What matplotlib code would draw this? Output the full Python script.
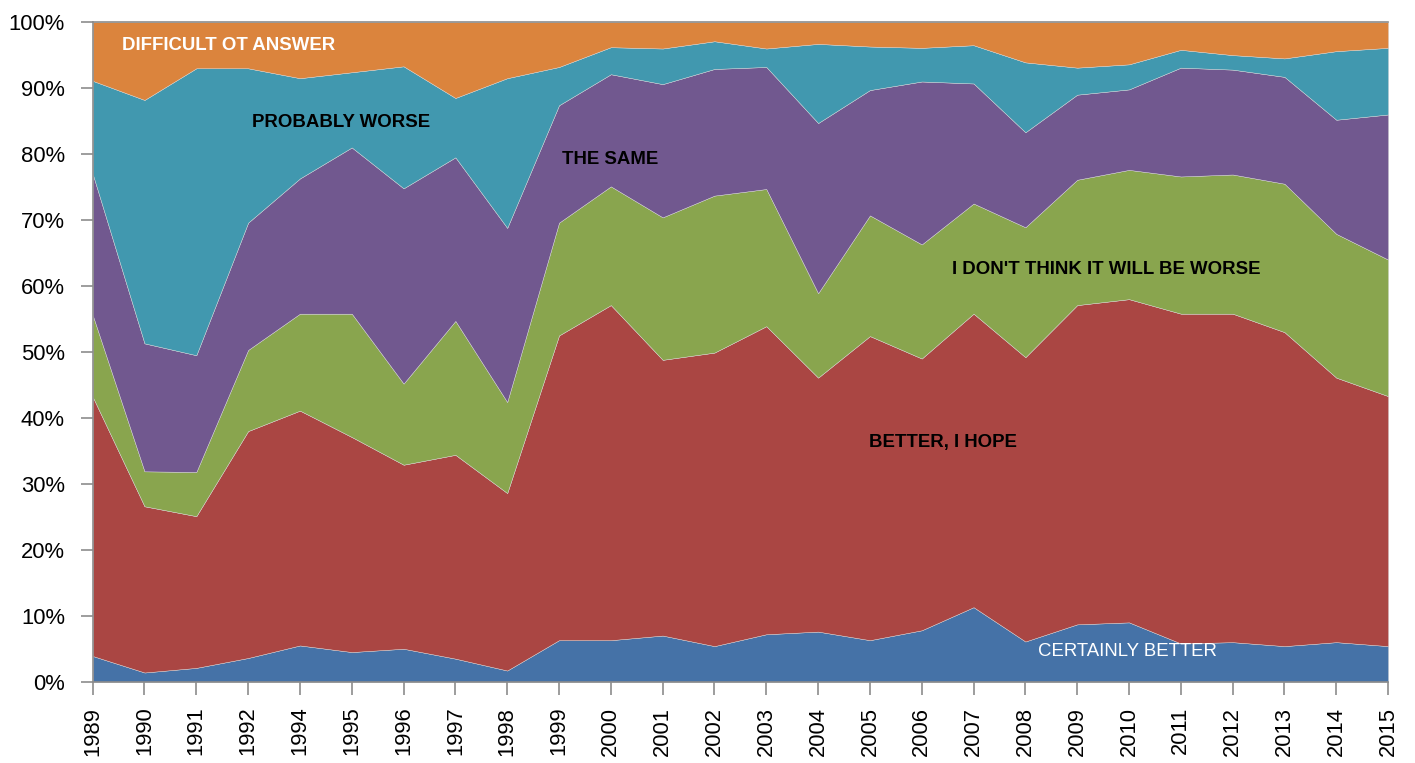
import numpy as np
import matplotlib
matplotlib.use('Agg')
import matplotlib.pyplot as plt
import matplotlib.ticker as mtick

# survey years (1993 is missing)
years = ['1989', '1990', '1991', '1992', '1994', '1995', '1996', '1997', '1998', '1999',
         '2000', '2001', '2002', '2003', '2004', '2005', '2006', '2007', '2008', '2009',
         '2010', '2011', '2012', '2013', '2014', '2015']

# shares, %
certainly_better = [3.9, 1.4, 2.1, 3.6, 5.5, 4.5, 5.0, 3.5, 1.7, 6.3,
                    6.3, 7.0, 5.4, 7.2, 7.6, 6.3, 7.8, 11.3, 6.1, 8.7,
                    9.0, 5.8, 6.0, 5.4, 6.0, 5.4]
better_i_hope = [39.3, 25.2, 23.0, 34.4, 35.6, 32.6, 27.9, 30.9, 26.9, 46.2,
                 50.8, 41.8, 44.5, 46.7, 38.5, 46.1, 41.2, 44.5, 43.1, 48.4,
                 49.0, 50.0, 49.8, 47.6, 40.1, 37.9]
not_worse = [12.4, 5.3, 6.7, 12.3, 14.7, 18.7, 12.3, 20.3, 13.8, 17.1,
             18.0, 21.6, 23.8, 20.8, 12.8, 18.3, 17.3, 16.7, 19.7, 19.0,
             19.6, 20.8, 21.1, 22.5, 21.8, 20.7]
the_same = [21.4, 19.4, 17.7, 19.3, 20.5, 25.2, 29.6, 24.8, 26.4, 17.8,
            17.0, 20.2, 19.2, 18.5, 25.8, 19.0, 24.7, 18.2, 14.4, 12.9,
            12.2, 16.5, 15.9, 16.2, 17.3, 22.0]
probably_worse = [14.1, 36.9, 43.5, 23.4, 15.2, 11.4, 18.5, 9.0, 22.7, 5.8,
                  4.1, 5.4, 4.2, 2.8, 12.0, 6.6, 5.1, 5.8, 10.6, 4.1,
                  3.8, 2.7, 2.2, 2.8, 10.4, 10.1]
difficult = [8.9, 11.8, 7.0, 7.0, 8.5, 7.6, 6.7, 11.5, 8.5, 6.8,
             3.8, 4.0, 2.9, 4.0, 3.3, 3.7, 3.9, 3.5, 6.1, 6.9,
             6.4, 4.2, 5.0, 5.5, 4.4, 3.9]


def draw(savepath):
    plt.rcParams['font.family'] = ['Liberation Sans', 'DejaVu Sans']

    series = np.array([certainly_better, better_i_hope, not_worse,
                       the_same, probably_worse, difficult], dtype=float)
    # 100% stacked
    series = series / series.sum(axis=0) * 100
    x = np.arange(len(years))

    # excel 2007 palette
    colors = ['#4572A7', '#AA4643', '#89A54E', '#71588F', '#4198AF', '#DB843D']

    fig = plt.figure(figsize=(14.15, 7.63), dpi=100)
    ax = fig.add_axes([0.0655, 0.1065, 0.9155, 0.8645])

    ax.stackplot(x, series, colors=colors, edgecolor='#d9d9d9', linewidth=0.3)

    ax.set_xlim(0, len(years) - 1)
    ax.set_ylim(0, 100)
    ax.set_xticks(x)
    ax.set_xticklabels(years, rotation=90)
    ax.set_yticks(np.arange(0, 101, 10))
    ax.yaxis.set_major_formatter(mtick.FormatStrFormatter('%d%%'))
    ax.tick_params(labelsize=15.8, length=9, width=1.2, color='#8c8c8c')
    ax.tick_params(axis='y', pad=11)
    ax.tick_params(axis='x', pad=9)

    for side in ['left', 'bottom', 'top']:
        ax.spines[side].set_color('#8c8c8c')
        ax.spines[side].set_linewidth(1.2)
    ax.spines['right'].set_visible(False)

    # labels inside the areas
    lab = dict(fontsize=13.4, va='center', ha='left')
    ax.text(0.57, 96.5, 'DIFFICULT OT ANSWER', color='white', fontweight='bold', **lab)
    ax.text(3.07, 84.8, 'PROBABLY WORSE', color='black', fontweight='bold', **lab)
    ax.text(9.05, 79.2, 'THE SAME', color='black', fontweight='bold', **lab)
    ax.text(16.58, 62.5, "I DON'T THINK IT WILL BE WORSE", color='black', fontweight='bold', **lab)
    ax.text(14.99, 36.2, 'BETTER, I HOPE', color='black', fontweight='bold', **lab)
    ax.text(18.24, 4.65, 'CERTAINLY BETTER', color='white', **lab)

    plt.savefig(savepath, dpi=100)


if __name__ == '__main__':
    draw('out.png')
